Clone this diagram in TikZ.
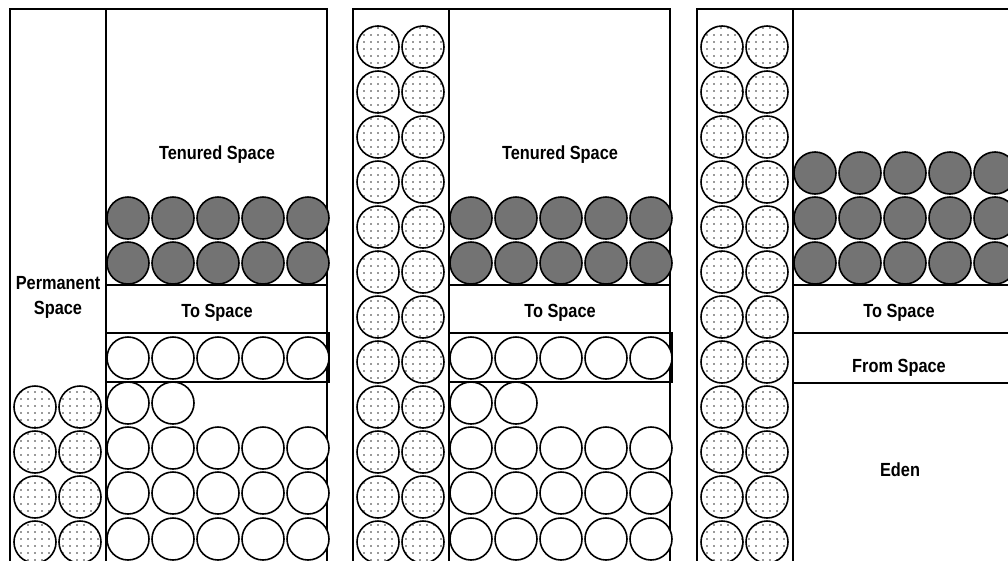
\documentclass[tikz,border=0pt]{standalone}
\usepackage{fontspec}
\setsansfont[FakeStretch=0.86]{Liberation Sans}
\usepackage{tikz}
\usetikzlibrary{patterns.meta}

\begin{document}
\begin{tikzpicture}[x=1pt,y=-1pt,line width=1.6pt,
 lbl/.style={font=\sffamily\bfseries\fontsize{19}{25}\selectfont,anchor=base,align=center,inner sep=0pt},
 perm/.style={draw,pattern={Dots[distance=7pt,radius=0.8pt]},pattern color=black!80},
 old/.style={draw,fill=black!55},
 yng/.style={draw,fill=white},
 surv/.style={draw,line width=2.4pt}]
 \useasboundingbox (0,0) rectangle (1008,560);
 \clip (0,0) rectangle (1008,560);
 % before collection
 \begin{scope}[xshift=10pt]
 \draw (0,9) rectangle (317,590);
 \draw (96,9) -- (96,590);
 \node[lbl,anchor=center] (perm1) at (48,297) {Permanent\\Space};
 \node[lbl] (ten1) at (207,159) {Tenured Space};
 \foreach \r in {8,...,11} \foreach \c in {25,70} \draw[perm] (\c,{47+45*\r}) circle[radius=21pt];
 \foreach \r in {218,263} \foreach \i in {0,...,4} \draw[old] ({118+45*\i},\r) circle[radius=21pt];
 \draw (96,285) -- (317,285);
 \node[lbl] (to1) at (207,317) {To Space};
 \draw[surv] (96,333) rectangle (319,382);
 \foreach \i in {0,...,4} \draw[yng] ({118+45*\i},358) circle[radius=21pt];
 \foreach \i in {0,1} \draw[yng] ({118+45*\i},403) circle[radius=21pt];
 \foreach \r in {448,493,539} \foreach \i in {0,...,4} \draw[yng] ({118+45*\i},\r) circle[radius=21pt];
 \end{scope}
 % permanent space filled
 \begin{scope}[xshift=353pt]
 \draw (0,9) rectangle (317,590);
 \draw (96,9) -- (96,590);
 \node[lbl] (ten2) at (207,159) {Tenured Space};
 \foreach \r in {0,...,11} \foreach \c in {25,70} \draw[perm] (\c,{47+45*\r}) circle[radius=21pt];
 \foreach \r in {218,263} \foreach \i in {0,...,4} \draw[old] ({118+45*\i},\r) circle[radius=21pt];
 \draw (96,285) -- (317,285);
 \node[lbl] (to2) at (207,317) {To Space};
 \draw[surv] (96,333) rectangle (319,382);
 \foreach \i in {0,...,4} \draw[yng] ({118+45*\i},358) circle[radius=21pt];
 \foreach \i in {0,1} \draw[yng] ({118+45*\i},403) circle[radius=21pt];
 \foreach \r in {448,493,539} \foreach \i in {0,...,4} \draw[yng] ({118+45*\i},\r) circle[radius=21pt];
 \end{scope}
 % after collection
 \begin{scope}[xshift=697pt]
 \draw (0,9) rectangle (317,590);
 \draw (96,9) -- (96,590);
 \foreach \r in {0,...,11} \foreach \c in {25,70} \draw[perm] (\c,{47+45*\r}) circle[radius=21pt];
 \foreach \r in {173,218,263} \foreach \i in {0,...,4} \draw[old] ({118+45*\i},\r) circle[radius=21pt];
 \draw (96,285) -- (317,285);
 \draw[surv] (96,333) -- (317,333);
 \draw (96,383) -- (317,383);
 \node[lbl] (to3) at (202,317) {To Space};
 \node[lbl] (from3) at (202,372) {From Space};
 \node[lbl] (eden3) at (203,476) {Eden};
 \end{scope}
\end{tikzpicture}
\end{document}
